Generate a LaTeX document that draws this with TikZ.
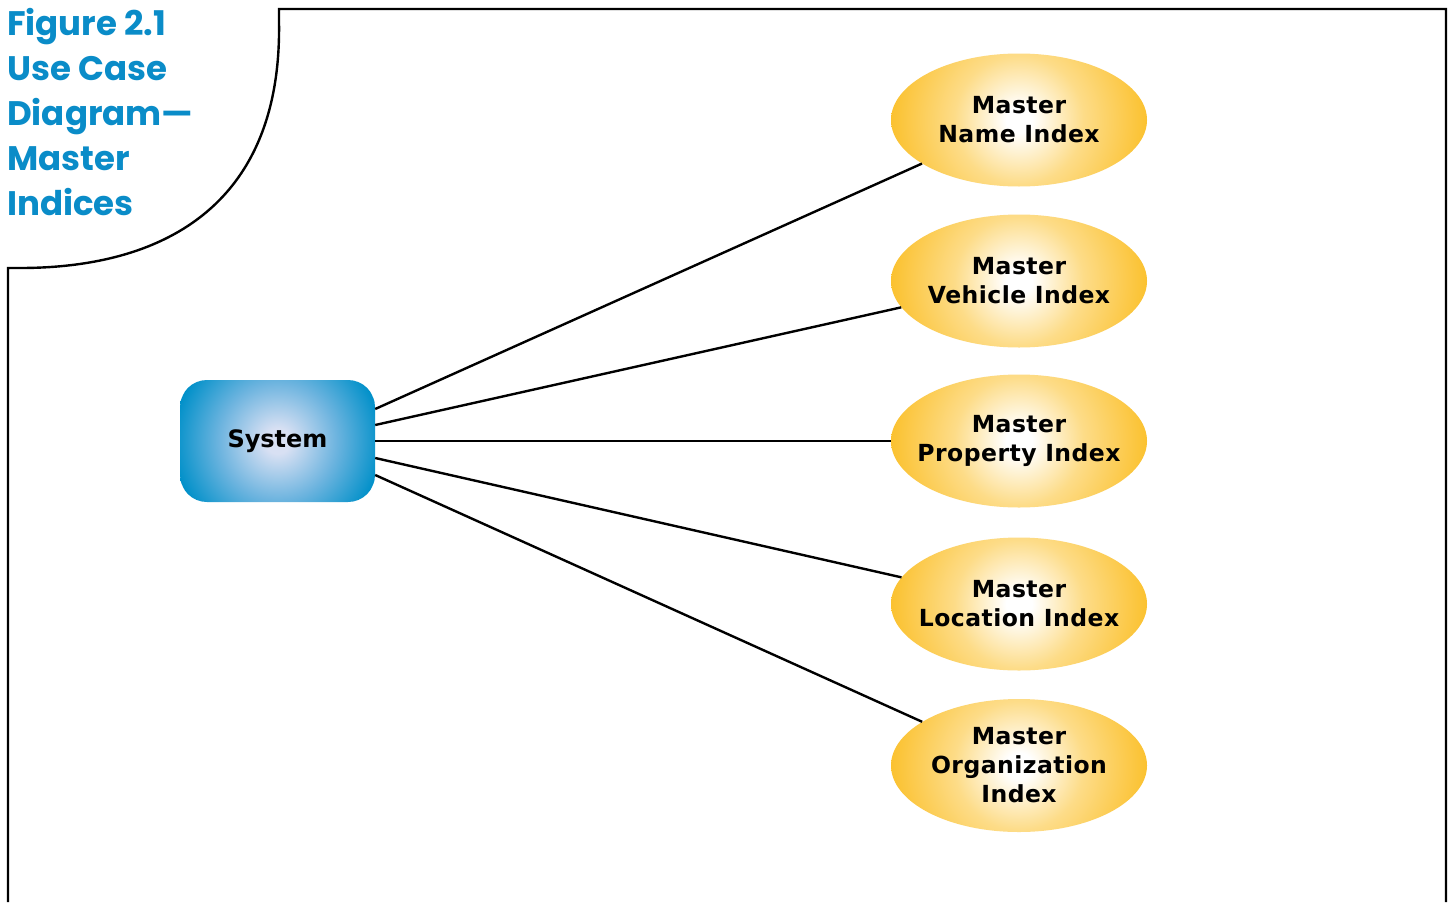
\documentclass[tikz,border=0pt]{standalone}
\usepackage{fontspec}
\setmainfont{DejaVu Sans}
\newfontfamily\titlefont{Poppins}
\usetikzlibrary{shapes.geometric}
\definecolor{titleblue}{HTML}{0A8CC8}
\definecolor{goldedge}{HTML}{FBC12E}
\definecolor{goldmid}{HTML}{FDDC88}
\definecolor{bluecenter}{HTML}{D8E0F3}
\definecolor{bluemid}{HTML}{6DB4DF}
\definecolor{blueedge}{HTML}{0090C9}
\pgfdeclareradialshading{goldshade}{\pgfpoint{0bp}{0bp}}{color(0bp)=(white); color(2.5bp)=(white); color(12.5bp)=(goldmid); color(25bp)=(goldedge); color(50bp)=(goldedge)}
\pgfdeclareradialshading{blueshade}{\pgfpoint{0bp}{0bp}}{color(0bp)=(bluecenter); color(3bp)=(bluecenter); color(14bp)=(bluemid); color(25bp)=(blueedge); color(50bp)=(blueedge)}
\tikzset{
  usecase/.style={ellipse, minimum width=256pt, minimum height=133pt, inner sep=0pt,
    path picture={\shade[shading=goldshade] (path picture bounding box.center) circle (129pt);}},
  casetext/.style={align=center, inner sep=0pt,
    font=\bfseries\fontsize{23.5}{29}\selectfont\addfontfeature{LetterSpace=2}},
  sysbox/.style={rectangle, minimum width=195pt, minimum height=122pt,
    font=\bfseries\fontsize{24}{29}\selectfont},
  link/.style={line width=2.4pt, black},
  frame/.style={line width=2.4pt, black},
  titletext/.style={anchor=north west, align=left, inner sep=0pt, text=titleblue,
    font=\titlefont\bfseries\fontsize{34}{45}\selectfont}
}
\begin{document}
\begin{tikzpicture}[x=1pt,y=-1pt]
\useasboundingbox (0,0) rectangle (1453,902);
\fill[white] (0,0) rectangle (1453,902);
% frame
\draw[frame] (1446,902) -- (1446,9) -- (279,9) -- (279,22)
  .. controls (282,200) and (170,268) .. (20,268) -- (8,268) -- (8,902);
% title
\node[titletext] (title) at (7,8) {Figure 2.1\\Use Case\\Diagram—\\Master\\Indices};
% system box background
\begin{scope}
  \clip[rounded corners=27pt] (180,380) rectangle (375,502);
  \shade[shading=blueshade] (277.5,441) circle (105pt);
\end{scope}
\node[sysbox] (sys) at (277.5,441) {System};
% use cases
\node[usecase, label={[casetext]center:Master\\Name Index}] (e1) at (1019,120) {};
\node[usecase, label={[casetext]center:Master\\Vehicle Index}] (e2) at (1019,281) {};
\node[usecase, label={[casetext]center:Master\\Property Index}] (e3) at (1019,441) {};
\node[usecase, label={[casetext]center:Master\\Location Index}] (e4) at (1019,604) {};
\node[usecase, label={[casetext]center:Master\\Organization\\Index}] (e5) at (1019,765.5) {};
% links
\draw[link] ([yshift=32pt]sys.east) -- (e1);
\draw[link] ([yshift=16pt]sys.east) -- (e2);
\draw[link] (sys.east) -- (e3);
\draw[link] ([yshift=-17pt]sys.east) -- (e4);
\draw[link] ([yshift=-34pt]sys.east) -- (e5);
\end{tikzpicture}
\end{document}
